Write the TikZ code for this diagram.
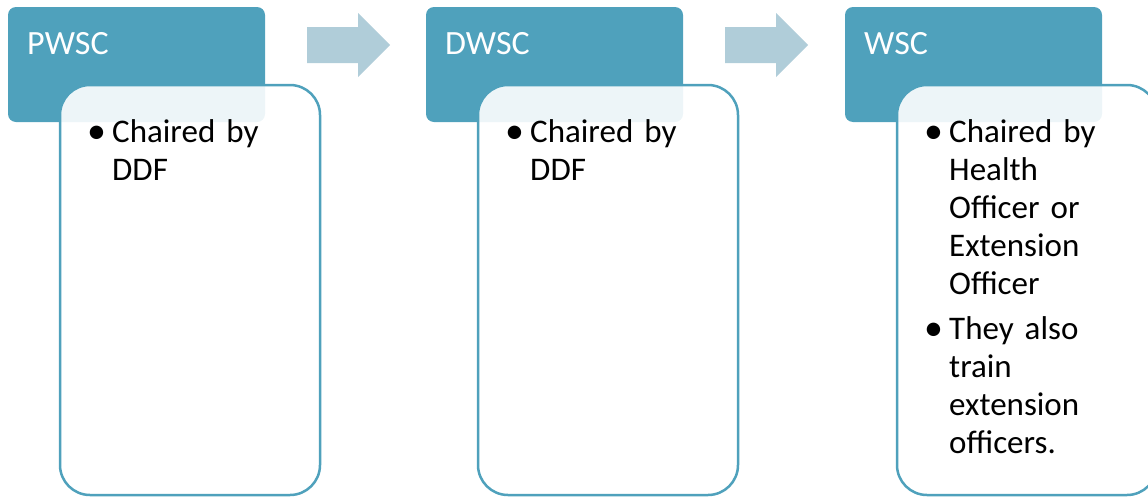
\documentclass[tikz,border=0pt]{standalone}
\usepackage{fontspec}
\usepackage{graphicx}
\setmainfont{Carlito}
\definecolor{teal}{HTML}{4FA1BC}
\definecolor{arrowc}{HTML}{B0CDD9}
\newcommand{\bul}[1]{\par\hangindent=20pt\hangafter=1\noindent\makebox[20pt][l]{\hspace{-5pt}\raisebox{-0.03em}{\scalebox{1.15}{\textbullet}}}#1\par}
\newcommand{\gap}{\vspace{7pt}}
\tikzset{
  headbox/.style={fill=teal, draw=none, rounded corners=8pt},
  bodybox/.style={fill=white, fill opacity=0.9, draw=teal, line width=2.5pt, rounded corners=30pt},
  headtext/.style={anchor=base west, inner sep=0pt, text=white, font=\fontsize{34}{40}\selectfont},
  bodytext/.style={anchor=north west, inner sep=0pt, text width=220pt, align=left,
     font=\fontsize{33}{38}\selectfont},
  flowarrow/.style={fill=arrowc, draw=none}
}
\begin{document}
\begin{tikzpicture}[x=1pt,y=-1pt]
\useasboundingbox (0,0) rectangle (1148,496);
\clip (0,0) rectangle (1148,496);
% column 1
\path[headbox] (8,7) rectangle (265,122);
\node[headtext] (h1) at (27,54) {PWSC};
\path[bodybox] (60,85) rectangle (320,495);
\node[bodytext] (t1) at (92,104) {\bul{Chaired by\newline DDF}};
% column 2
\path[headbox] (426,7) rectangle (683,122);
\node[headtext] (h2) at (445,54) {DWSC};
\path[bodybox] (478,85) rectangle (738,495);
\node[bodytext] (t2) at (510,104) {\bul{Chaired by\newline DDF}};
% column 3
\path[headbox] (845,7) rectangle (1102,122);
\node[headtext] (h3) at (864,54) {WSC};
\path[bodybox] (897,85) rectangle (1157,495);
\node[bodytext] (t3) at (929,104) {\bul{Chaired by\newline Health\newline Officer or\newline Extension\newline Officer}\gap\bul{They also\newline train\newline extension\newline officers.}};
% arrows
\path[flowarrow] (307,27) -- (358,27) -- (358,13) -- (390,45) -- (358,77) -- (358,63) -- (307,63) -- cycle;
\path[flowarrow] (725,27) -- (776,27) -- (776,13) -- (808,45) -- (776,77) -- (776,63) -- (725,63) -- cycle;
\end{tikzpicture}
\end{document}
